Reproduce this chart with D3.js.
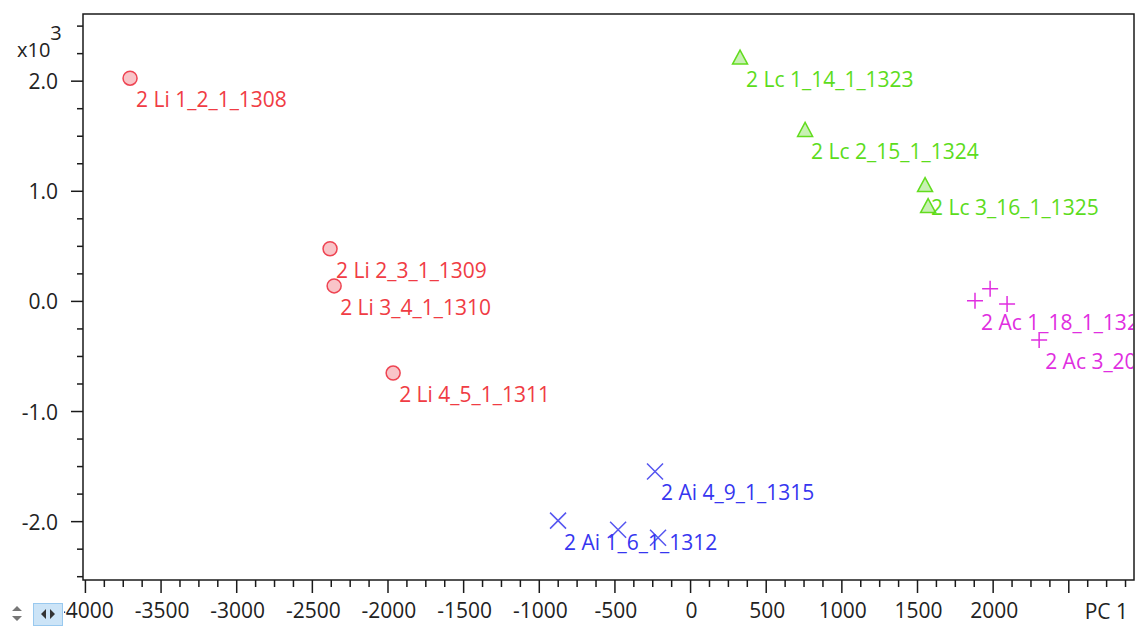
<!DOCTYPE html>
<html>
<head>
<meta charset="utf-8">
<script src="https://d3js.org/d3.v7.min.js"></script>
<style>
  body { margin: 0; background: #fff; }
  svg text { font-family: "Open Sans", "Noto Sans", sans-serif; }
</style>
</head>
<body>
<div id="chart"></div>
<script>
// PCA scores, PC 1 (x) and PC 2 (y, shown x10^3)
const groups = ["Li", "Lc", "Ac", "Ai"];

const liNames = ["2 Li 1_2_1_1308", "2 Li 2_3_1_1309", "2 Li 3_4_1_1310", "2 Li 4_5_1_1311"];
const liX = [-3705, -2383, -2356, -1966];
const liY = [2027, 478, 141, -651];

const lcNames = ["2 Lc 1_14_1_1323", "2 Lc 2_15_1_1324", "2 Lc 3_16_1_1325", "2 Lc 4_17_1_1326"];
const lcX = [327, 757, 1550, 1570];
const lcY = [2210, 1553, 1052, 861];

const acNames = ["2 Ac 1_18_1_1327", "2 Ac 2_19_1_1328", "2 Ac 4_21_1_1330", "2 Ac 3_20_1_1329"];
const acX = [1880, 1980, 2092, 2304];
const acY = [5, 114, -23, -351];

const aiNames = ["2 Ai 4_9_1_1315", "2 Ai 1_6_1_1312", "2 Ai 2_7_1_1313", "2 Ai 3_8_1_1314"];
const aiX = [-235, -876, -479, -215];
const aiY = [-1544, -1991, -2073, -2146];

// labels the original chart actually shows (others hidden by overlap)
const shownLabels = ["2 Li 1_2_1_1308", "2 Li 2_3_1_1309", "2 Li 3_4_1_1310", "2 Li 4_5_1_1311",
  "2 Lc 1_14_1_1323", "2 Lc 2_15_1_1324", "2 Lc 3_16_1_1325",
  "2 Ac 1_18_1_1327", "2 Ac 3_20_1_1329",
  "2 Ai 4_9_1_1315", "2 Ai 1_6_1_1312"];

const xTicks = [-4000, -3500, -3000, -2500, -2000, -1500, -1000, -500, 0, 500, 1000, 1500, 2000];
const yTicks = [-2000, -1000, 0, 1000, 2000];

const width = 1138, height = 626;
const plotLeft = 83, plotRight = 1134, plotTop = 14, plotBottom = 580;
const fs = 21;

const x = d3.scaleLinear().domain([-4016, 2931]).range([plotLeft, plotRight]);
const y = d3.scaleLinear().domain([-2530, 2610]).range([plotBottom, plotTop]);

const style = {
  Li: { text: "#f03c44", stroke: "#ee4452", fill: "#f9c4c8" },
  Lc: { text: "#5cdc1c", stroke: "#62dc1e", fill: "#c8f0b4" },
  Ac: { text: "#e02ee0", stroke: "#e02ee0", fill: "none" },
  Ai: { text: "#3636f0", stroke: "#5656f0", fill: "none" }
};

const points = [];
function add(g, names, xs, ys) {
  names.forEach((n, i) => points.push({ group: g, name: n, x: xs[i], y: ys[i] }));
}
add("Li", liNames, liX, liY);
add("Lc", lcNames, lcX, lcY);
add("Ac", acNames, acX, acY);
add("Ai", aiNames, aiX, aiY);

const svg = d3.select("#chart").append("svg")
  .attr("width", width).attr("height", height);

// frame
svg.append("rect")
  .attr("x", plotLeft).attr("y", plotTop)
  .attr("width", plotRight - plotLeft).attr("height", plotBottom - plotTop)
  .attr("fill", "#fff").attr("stroke", "#1a1a1a").attr("stroke-width", 1.5);

// x axis ticks
const xMinor = d3.range(-4000, 2931, 125);
svg.append("g").selectAll("line").data(xMinor).enter().append("line")
  .attr("x1", d => x(d)).attr("x2", d => x(d))
  .attr("y1", plotBottom).attr("y2", d => d % 500 === 0 ? plotBottom + 13 : plotBottom + 7)
  .attr("stroke", "#1a1a1a").attr("stroke-width", 1.5);

// the scroll widget covers the left end of the x labels
svg.append("clipPath").attr("id", "xLabClip").append("rect")
  .attr("x", 64).attr("y", 590).attr("width", width - 64).attr("height", 36);

svg.append("g").attr("clip-path", "url(#xLabClip)")
  .selectAll("text").data(xTicks).enter().append("text")
  .attr("x", d => x(d) + 1).attr("y", 618)
  .attr("text-anchor", "middle")
  .attr("font-size", fs).attr("fill", "#222")
  .text(d => d);

svg.append("text").attr("x", 1128).attr("y", 619)
  .attr("text-anchor", "end").attr("font-size", fs).attr("fill", "#222")
  .text("PC 1");

// y axis ticks
const yMinor = d3.range(-2500, 2610, 250);
svg.append("g").selectAll("line").data(yMinor).enter().append("line")
  .attr("x1", d => d % 1000 === 0 ? plotLeft - 12 : plotLeft - 6).attr("x2", plotLeft)
  .attr("y1", d => y(d)).attr("y2", d => y(d))
  .attr("stroke", "#1a1a1a").attr("stroke-width", 1.5);

svg.append("g").selectAll("text").data(yTicks).enter().append("text")
  .attr("x", 58).attr("y", d => y(d) + 8)
  .attr("text-anchor", "end")
  .attr("font-size", fs).attr("fill", "#222")
  .text(d => (d / 1000).toFixed(1));

const exp = svg.append("text").attr("x", 17).attr("y", 57)
  .attr("font-size", fs - 1).attr("fill", "#222");
exp.append("tspan").text("x10");
exp.append("tspan").attr("dy", -17).attr("font-size", fs - 1).text("3");

// markers
const mk = svg.append("g");
points.forEach(p => {
  const cx = x(p.x), cy = y(p.y), s = style[p.group];
  if (p.group === "Li") {
    mk.append("circle").attr("cx", cx).attr("cy", cy).attr("r", 7)
      .attr("fill", s.fill).attr("stroke", s.stroke).attr("stroke-width", 1.5);
  } else if (p.group === "Lc") {
    mk.append("path")
      .attr("d", `M${cx},${cy - 8}L${cx + 7.5},${cy + 6}L${cx - 7.5},${cy + 6}Z`)
      .attr("fill", s.fill).attr("stroke", s.stroke).attr("stroke-width", 1.5);
  } else if (p.group === "Ac") {
    mk.append("path")
      .attr("d", `M${cx - 8},${cy}H${cx + 8}M${cx},${cy - 8}V${cy + 8}`)
      .attr("stroke", s.stroke).attr("stroke-width", 1.5);
  } else {
    mk.append("path")
      .attr("d", `M${cx - 8},${cy - 8}L${cx + 8},${cy + 8}M${cx + 8},${cy - 8}L${cx - 8},${cy + 8}`)
      .attr("stroke", s.stroke).attr("stroke-width", 1.5);
  }
});

// point labels, clipped to plot area like the original
svg.append("clipPath").attr("id", "plotClip").append("rect")
  .attr("x", plotLeft).attr("y", plotTop).attr("width", plotRight - plotLeft - 1).attr("height", plotBottom - plotTop);

svg.append("g").attr("clip-path", "url(#plotClip)")
  .selectAll("text").data(points.filter(p => shownLabels.includes(p.name))).enter().append("text")
  .attr("x", d => x(d.x) + 6).attr("y", d => y(d.y) + 29)
  .attr("font-size", fs).attr("fill", d => style[d.group].text)
  .text(d => d.name);

// small scroll widgets bottom-left
const w = svg.append("g");
w.append("rect").attr("x", 33.5).attr("y", 603.5).attr("width", 29).attr("height", 22)
  .attr("fill", "#cce4f7").attr("stroke", "#99c9ef");
w.append("path").attr("d", "M41,614l5,-5v10Z M55,614l-5,-5v10Z").attr("fill", "#333");
w.append("path").attr("d", "M12,611l5,-5l5,5Z M12,616l5,5l5,-5Z").attr("fill", "#777");
</script>
</body>
</html>
